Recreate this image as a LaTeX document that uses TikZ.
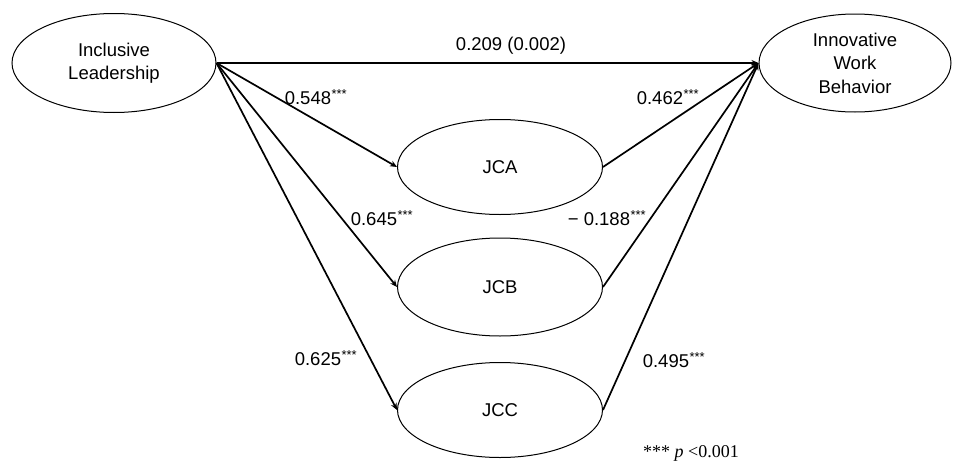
\documentclass[tikz,border=0pt]{standalone}
\usepackage{fontspec}
\setmainfont{Liberation Sans}
\newfontfamily\serifnote{Liberation Serif}
\usetikzlibrary{shapes.geometric,arrows.meta}
\newcommand{\sig}{\textsuperscript{\kern0.5pt***}}
\begin{document}
\begin{tikzpicture}[x=1pt,y=-1pt,
  latent/.style={ellipse,draw,line width=1pt,inner sep=0pt,align=center,font=\fontsize{18.5}{23.5}\selectfont},
  path/.style={line width=1.7pt,-{Stealth[length=7pt,width=6pt]}},
  coef/.style={font=\fontsize{18.5}{20}\selectfont,inner sep=0pt}]
\useasboundingbox (0,0) rectangle (953,466);
\node[latent,minimum width=204pt,minimum height=99pt] (il) at (114,63) {Inclusive\\Leadership};
\node[latent,minimum width=192pt,minimum height=98pt] (iwb) at (855,63) {Innovative\\Work\\Behavior};
\node[latent,minimum width=205pt,minimum height=95pt] (jca) at (500,167) {JCA};
\node[latent,minimum width=205pt,minimum height=98pt] (jcb) at (500,287) {JCB};
\node[latent,minimum width=205pt,minimum height=95pt] (jcc) at (500,410) {JCC};
\draw[path] (il.east) -- (iwb.west);
\draw[path] (il.east) -- (jca.west);
\draw[path] (il.east) -- (jcb.west);
\draw[path] (il.east) -- (jcc.west);
\draw[path] (jca.east) -- (iwb.west);
\draw[path] (jcb.east) -- (iwb.west);
\draw[path] (jcc.east) -- (iwb.west);
\node[coef] (c1) at (511,46) {0.209 (0.002)};
\node[coef] (c2) at (316,97) {0.548\sig};
\node[coef] (c3) at (382,218) {0.645\sig};
\node[coef] (c4) at (326,358) {0.625\sig};
\node[coef] (c5) at (668,97) {0.462\sig};
\node[coef] (c6) at (607,218) {−~0.188\sig};
\node[coef] (c7) at (674,360) {0.495\sig};
\node[inner sep=0pt,font=\serifnote\fontsize{18}{20}\selectfont] (note) at (691,453) {*** \textit{p} <0.001};
\end{tikzpicture}
\end{document}
